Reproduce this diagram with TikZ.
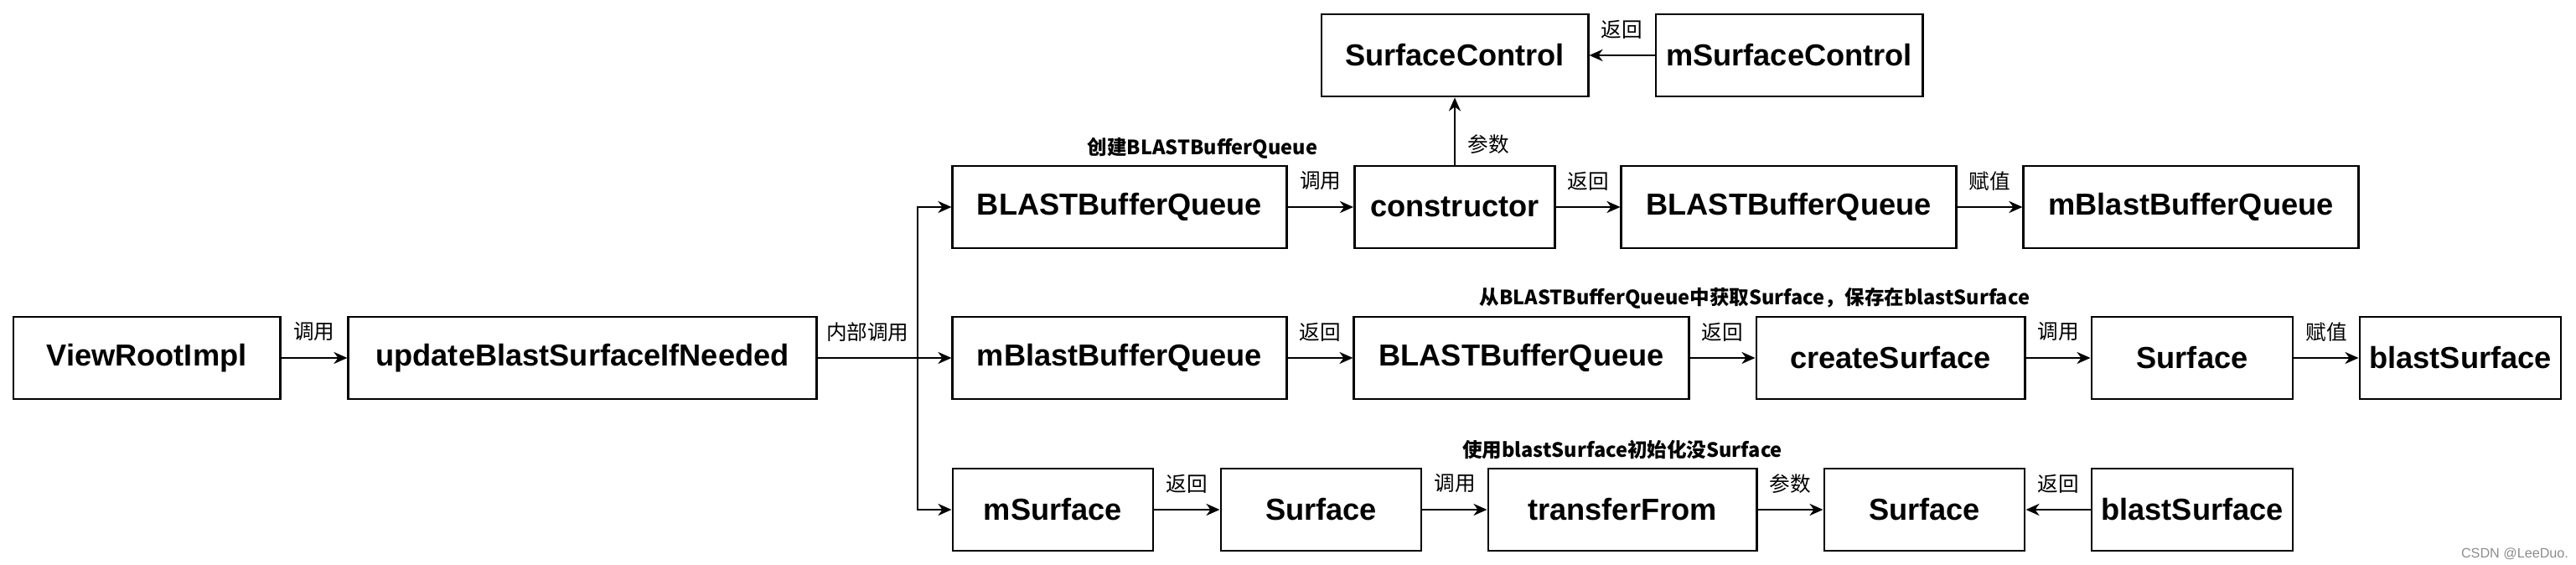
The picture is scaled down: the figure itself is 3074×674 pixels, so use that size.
\documentclass[tikz,border=0pt]{standalone}
\usepackage{fontspec}
\setmainfont{Liberation Sans}
\newfontfamily\cjk{Noto Sans CJK SC}
\usetikzlibrary{arrows.meta}
\begin{document}
\begin{tikzpicture}[x=0.01cm,y=-0.01cm,
  box/.style={draw=black, line width=0.8pt, minimum height=0.98cm, inner sep=0pt,
    font=\fontsize{10.3}{12}\selectfont\bfseries},
  arr/.style={-{Stealth[length=0.16cm,width=0.14cm,inset=0.05cm]}, line width=0.75pt},
  lbl/.style={font=\cjk\fontsize{7}{8.5}\selectfont, inner sep=0pt},
  note/.style={font=\cjk\bfseries\fontsize{6.7}{8}\selectfont, inner sep=0pt},
  up/.style={midway, yshift=0.31cm},
]
\useasboundingbox (0,0) rectangle (3074,674);

% left
\node[box, minimum width=3.18cm] (vri) at (175,427) {ViewRootImpl};
\node[box, minimum width=5.58cm] (upd) at (695,427) {updateBlastSurfaceIfNeeded};
\coordinate (j) at (1095,427);

% top row
\node[box, minimum width=3.18cm] (sc) at (1736,66) {SurfaceControl};
\node[box, minimum width=3.18cm] (msc) at (2135,66) {mSurfaceControl};

% row 1
\node[box, minimum width=3.98cm] (r1a) at (1336,247) {BLASTBufferQueue};
\node[box, minimum width=2.39cm] (r1b) at (1736,247) {constructor};
\node[box, minimum width=3.99cm] (r1c) at (2134.5,247) {BLASTBufferQueue};
\node[box, minimum width=3.99cm] (r1d) at (2614.5,247) {mBlastBufferQueue};

% row 2
\node[box, minimum width=3.98cm] (r2a) at (1336,427) {mBlastBufferQueue};
\node[box, minimum width=3.99cm] (r2b) at (1815.5,427) {BLASTBufferQueue};
\node[box, minimum width=3.20cm] (r2c) at (2256,427) {createSurface};
\node[box, minimum width=2.40cm] (r2d) at (2616,427) {Surface};
\node[box, minimum width=2.40cm] (r2e) at (2936,427) {blastSurface};

% row 3
\node[box, minimum width=2.39cm] (r3a) at (1256.5,608) {mSurface};
\node[box, minimum width=2.39cm] (r3b) at (1576.5,608) {Surface};
\node[box, minimum width=3.20cm] (r3c) at (1936,608) {transferFrom};
\node[box, minimum width=2.39cm] (r3d) at (2296.5,608) {Surface};
\node[box, minimum width=2.40cm] (r3e) at (2616,608) {blastSurface};

% annotations
\node[note] (n1) at (1435,177) {创建BLASTBufferQueue};
\node[note] (n2) at (2094,356) {从BLASTBufferQueue中获取Surface，保存在blastSurface};
\node[note] (n3) at (1936,537) {使用blastSurface初始化没Surface};
\node[font=\fontsize{4.6}{5}\selectfont, text=black!45, inner sep=0pt] (wm) at (3001,661) {CSDN @LeeDuo.};

% edges
\draw[arr] (vri) -- node[lbl, up] {调用} (upd);
\draw[line width=0.75pt] (upd) -- node[lbl, up] {内部调用} (j);
\draw[arr] (j) |- (r1a);
\draw[arr] (j) -- (r2a);
\draw[arr] (j) |- (r3a);

\draw[arr] (r1a) -- node[lbl, up] {调用} (r1b);
\draw[arr] (r1b) -- node[lbl, up] {返回} (r1c);
\draw[arr] (r1c) -- node[lbl, up] {赋值} (r1d);
\draw[arr] (r1b.north) -- node[lbl, pos=0.3, xshift=0.4cm] {参数} (sc.south);
\draw[arr] (msc) -- node[lbl, up] {返回} (sc);

\draw[arr] (r2a) -- node[lbl, up] {返回} (r2b);
\draw[arr] (r2b) -- node[lbl, up] {返回} (r2c);
\draw[arr] (r2c) -- node[lbl, up] {调用} (r2d);
\draw[arr] (r2d) -- node[lbl, up] {赋值} (r2e);

\draw[arr] (r3a) -- node[lbl, up] {返回} (r3b);
\draw[arr] (r3b) -- node[lbl, up] {调用} (r3c);
\draw[arr] (r3c) -- node[lbl, up] {参数} (r3d);
\draw[arr] (r3e) -- node[lbl, up] {返回} (r3d);
\end{tikzpicture}
\end{document}
